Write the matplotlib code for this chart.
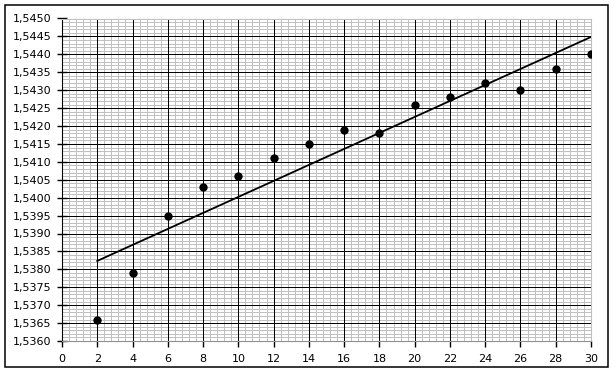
import numpy as np
import matplotlib.pyplot as plt
from matplotlib.patches import Rectangle
from matplotlib.ticker import MultipleLocator, FuncFormatter

# data
x = [2, 4, 6, 8, 10, 12, 14, 16, 18, 20, 22, 24, 26, 28, 30]
y = [1.5366, 1.5379, 1.5395, 1.5403, 1.5406, 1.5411, 1.5415, 1.5419,
     1.5418, 1.5426, 1.5428, 1.5432, 1.5430, 1.5436, 1.5440]

# linear trend line (least squares)
k, b = np.polyfit(x, y, 1)
xt = np.array([x[0], x[-1]])
yt = k * xt + b

xmin, xmax = 0, 30
ymin, ymax = 1.5360, 1.5450

fig = plt.figure(figsize=(6.16, 3.74), dpi=100)
ax = fig.add_axes([62/616, 1-341/374, (591-62)/616, (341-18.5)/374])

# outer frame around the whole chart
fig.patches.append(Rectangle((5/616, 1-367/374), 603/616, 362/374, transform=fig.transFigure,
                             fill=False, edgecolor='black', linewidth=1.1))

ax.set_xlim(xmin, xmax)
ax.set_ylim(ymin, ymax)
ax.xaxis.set_major_locator(MultipleLocator(2))
ax.yaxis.set_major_locator(MultipleLocator(0.0005))
ax.yaxis.set_major_formatter(FuncFormatter(lambda v, p: '{:.4f}'.format(v).replace('.', ',')))

# grid: gray minor first, black major on top (not on the outer edges)
lw = 0.72  # one pixel
xminor = np.arange(xmin, xmax + 0.01, 0.4)
yminor = np.arange(ymin, ymax + 0.00001, 0.0001)
ax.vlines(xminor, ymin, ymax, color='#c0c0c0', linewidth=lw, zorder=1, antialiased=False)
ax.hlines(yminor, xmin, xmax, color='#c0c0c0', linewidth=lw, zorder=1, antialiased=False)
xmajor = np.arange(xmin + 2, xmax, 2)
ymajor = np.arange(ymin + 0.0005, ymax - 0.0001, 0.0005)
ax.hlines(ymajor, xmin, xmax, color='black', linewidth=lw, zorder=2, antialiased=False)
ax.vlines(xmajor, ymin, ymax, color='black', linewidth=lw, zorder=2, antialiased=False)

ax.plot(xt, yt, '-', color='black', linewidth=1.3, zorder=3)
ax.plot(x, y, 'o', color='black', markersize=5, zorder=4)

ax.spines['top'].set_color('#c0c0c0')
ax.spines['right'].set_color('#c0c0c0')
ax.spines['left'].set_color('black')
ax.spines['bottom'].set_color('#909090')
ax.tick_params(axis='y', direction='inout', length=7, width=1, color='black',
               labelsize=8, pad=4)
ax.tick_params(axis='x', direction='out', length=4, width=1, color='black',
               labelsize=8, pad=5)

plt.savefig('out.png', dpi=100)
